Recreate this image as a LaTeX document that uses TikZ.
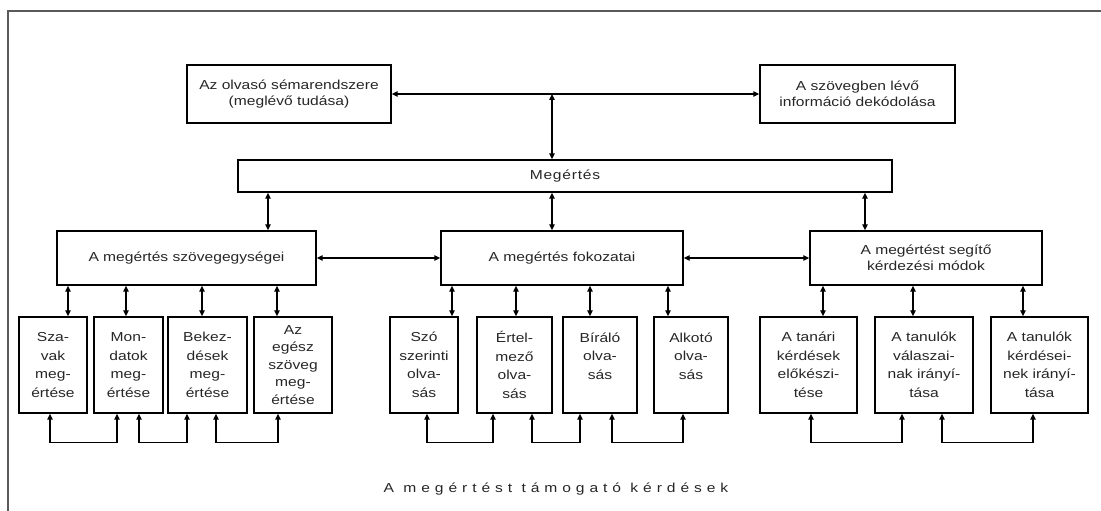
\documentclass[tikz,border=0pt]{standalone}
\usepackage{fontspec}
\setmainfont{Liberation Sans}[FakeStretch=1.2]
\usetikzlibrary{arrows.meta}
\definecolor{FrameGray}{HTML}{5A5A5A}
\definecolor{TextGray}{HTML}{262626}

\begin{document}
\begin{tikzpicture}[x=1pt,y=-1pt,
box/.style={draw,line width=1.4pt,align=center,inner sep=0pt,text=TextGray,font=\fontsize{13}{16.5}\selectfont},
unit/.style={box,minimum height=96,font=\fontsize{13}{18.5}\selectfont},
dbl/.style={{Triangle[length=6pt,width=5.5pt]}-{Triangle[length=6pt,width=5.5pt]},line width=1.3pt}
]
\useasboundingbox (0,0) rectangle (1101,511);
\draw[FrameGray,line width=2pt] (8,511) -- (8,11) -- (1101,11);

% top row and Megertes
\node[box,minimum width=204,minimum height=58] (olv) at (289,94) {Az olvasó sémarendszere\\(meglévő tudása)};
\node[box,minimum width=195,minimum height=58] (szov) at (857.5,94) {A szövegben lévő\\információ dekódolása};
\node[box,minimum width=654,minimum height=32,font=\fontsize{13}{16}\selectfont\addfontfeature{LetterSpace=6}] (meg) at (565,176) {Megértés};

% second row
\node[box,minimum width=259,minimum height=54] (egys) at (186.5,258) {A megértés szövegegységei};
\node[box,minimum width=242,minimum height=54] (fok) at (562,258) {A megértés fokozatai};
\node[box,minimum width=232,minimum height=54] (mod) at (926,258) {A megértést segítő\\kérdezési módok};

% third row
\foreach \n/\cx/\w/\t in {szav/53/68/{Sza-\\vak\\meg-\\értése},
    mond/128.5/69/{Mon-\\datok\\meg-\\értése},
    bek/207.5/79/{Bekez-\\dések\\meg-\\értése},
    szo/424/68/{Szó\\szerinti\\olva-\\sás},
    ert/514.5/75/{Értel-\\mező\\olva-\\sás},
    bir/600/74/{Bíráló\\olva-\\sás\\\mbox{}},
    alk/691/74/{Alkotó\\olva-\\sás\\\mbox{}},
    tan/808.5/97/{A tanári\\kérdések\\előkészi-\\tése},
    val/924/98/{A tanulók\\válaszai-\\nak irányí-\\tása},
    kerd/1039.5/97/{A tanulók\\kérdései-\\nek irányí-\\tása}}
  \node[unit,minimum width=\w] (\n) at (\cx,365) {\t};
\node[unit,minimum width=78,font=\fontsize{13}{17.5}\selectfont] (egesz) at (293,365) {Az\\egész\\szöveg\\meg-\\értése};

\node[text=TextGray,font=\fontsize{13}{16}\selectfont\addfontfeature{LetterSpace=38}] (cap) at (556,489) {A megértést támogató kérdések};

% connector columns
\foreach \n/\x in {t0/552,r1/268,r2/552,r3/865,
    a1/68,a2/126,a3/202,a4/277,b1/452,b2/516,b3/590,b4/668,c1/823,c2/913,c3/1023,
    l1/50,l2/117,l3/139,l4/187,l5/216,l6/278,m1/427,m2/493,m3/532,m4/580,m5/612,m6/683,
    n1/811,n2/902,n3/942,n4/1033}
  \coordinate (\n) at (\x,0);

\draw[dbl] (olv.east) -- (szov.west);
\draw[dbl] (olv.east -| t0) -- (meg.north -| t0);
\foreach \c/\b in {r1/egys,r2/fok,r3/mod}
  \draw[dbl] (meg.south -| \c) -- (\b.north -| \c);
\draw[dbl] (egys.east) -- (fok.west);
\draw[dbl] (fok.east) -- (mod.west);

\foreach \c/\a/\b in {a1/egys/szav,a2/egys/mond,a3/egys/bek,a4/egys/egesz,
    b1/fok/szo,b2/fok/ert,b3/fok/bir,b4/fok/alk,
    c1/mod/tan,c2/mod/val,c3/mod/kerd}
  \draw[dbl] (\a.south -| \c) -- (\b.north -| \c);

% bottom links
\foreach \p/\q/\a/\b in {l1/l2/szav/mond,l3/l4/mond/bek,l5/l6/bek/egesz,
    m1/m2/szo/ert,m3/m4/ert/bir,m5/m6/bir/alk,
    n1/n2/tan/val,n3/n4/val/kerd}
  \draw[dbl] (\a.south -| \p) -- ++(0,29) -| (\b.south -| \q);
\end{tikzpicture}
\end{document}
